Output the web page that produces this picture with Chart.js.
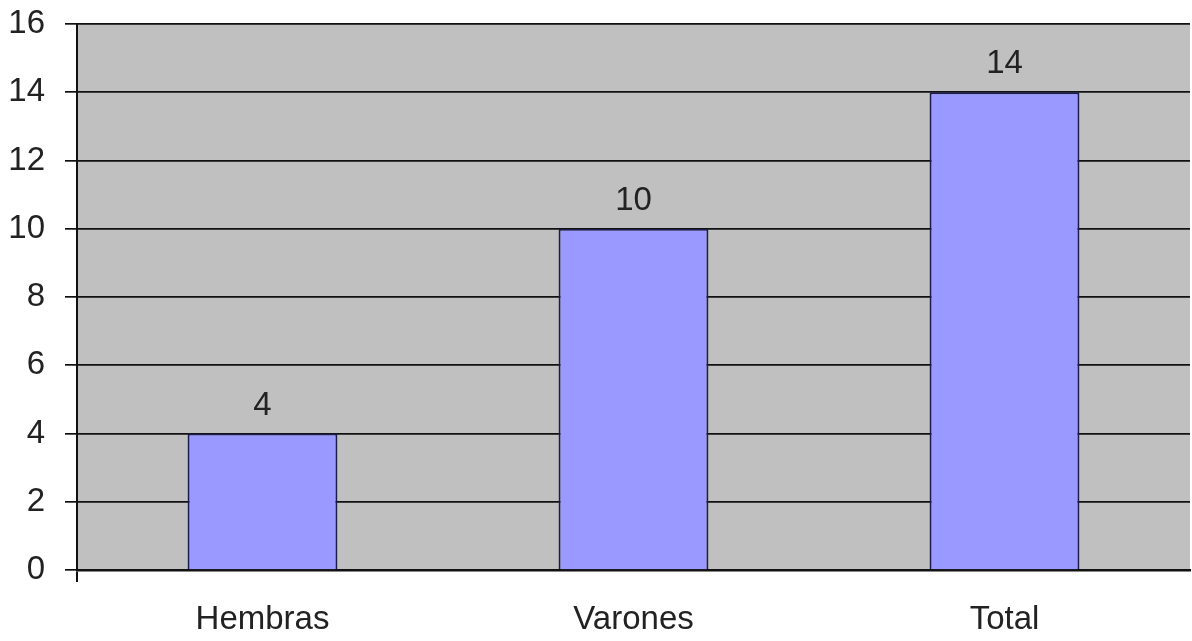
<!DOCTYPE html>
<html>
<head>
<meta charset="utf-8">
<script src="https://cdn.jsdelivr.net/npm/chart.js@4/dist/chart.umd.min.js"></script>
<style>
  html, body { margin: 0; padding: 0; background: #fff; }
  #wrap { width: 1192px; height: 641px; }
</style>
</head>
<body>
<div id="wrap"><canvas id="myChart"></canvas></div>
<script>
// datos
var categorias = ['Hembras', 'Varones', 'Total'];
var valores = [4, 10, 14];
var ejeY = { min: 0, max: 16, paso: 2 };

var fuente = '"Liberation Sans", Arial, sans-serif';

// fondo gris del area de trazado
var fondoGris = {
    id: 'fondoGris',
    beforeDraw: function (chart) {
        var a = chart.chartArea;
        var ctx = chart.ctx;
        ctx.save();
        ctx.fillStyle = '#c0c0c0';
        ctx.fillRect(a.left, a.top, a.right - a.left, a.bottom - a.top);
        ctx.restore();
    }
};

// numeros encima de las barras
var etiquetas = {
    id: 'etiquetas',
    afterDatasetsDraw: function (chart) {
        var ctx = chart.ctx;
        ctx.save();
        ctx.font = '33px ' + fuente;
        ctx.fillStyle = '#222';
        ctx.textAlign = 'center';
        ctx.textBaseline = 'alphabetic';
        chart.getDatasetMeta(0).data.forEach(function (bar, i) {
            ctx.fillText(String(chart.data.datasets[0].data[i]), bar.x, bar.y - 19);
        });
        ctx.restore();
    }
};

var ctx = document.getElementById('myChart');
var myChart = new Chart(ctx, {
    type: 'bar',
    data: {
        labels: categorias,
        datasets: [{
            data: valores,
            backgroundColor: '#9999ff',
            borderColor: '#1c1c4c',
            borderWidth: 2,
            barPercentage: 0.404,
            categoryPercentage: 1
        }]
    },
    options: {
        responsive: true,
        maintainAspectRatio: false,
        animation: false,
        layout: { padding: { top: 24, right: 2, bottom: 0, left: 0 } },
        plugins: {
            legend: { display: false },
            tooltip: { enabled: false }
        },
        scales: {
            x: {
                afterFit: function (scale) {
                    scale.height = 71;
                    scale.paddingLeft = 0;
                    scale.paddingRight = 0;
                },
                grid: {
                    display: true,
                    drawOnChartArea: false,
                    drawTicks: true,
                    tickLength: 12,
                    lineWidth: 2,
                    // solo la marca del origen, bajo el eje vertical
                    color: function (c) { return c.index === 0 ? '#111' : 'rgba(0,0,0,0)'; }
                },
                border: { display: true, color: '#111', width: 2.5 },
                ticks: {
                    color: '#222',
                    padding: 18,
                    font: { family: fuente, size: 33 }
                }
            },
            y: {
                min: ejeY.min,
                max: ejeY.max,
                afterFit: function (scale) {
                    scale.width = 77;
                    scale.paddingTop = 0;
                    scale.paddingBottom = 0;
                },
                grid: {
                    color: '#111',
                    lineWidth: 1.7,
                    drawTicks: true,
                    tickLength: 12
                },
                border: { display: true, color: '#111', width: 2 },
                ticks: {
                    stepSize: ejeY.paso,
                    color: '#222',
                    padding: 20,
                    font: { family: fuente, size: 33 }
                }
            }
        }
    },
    plugins: [fondoGris, etiquetas]
});
</script>
</body>
</html>
